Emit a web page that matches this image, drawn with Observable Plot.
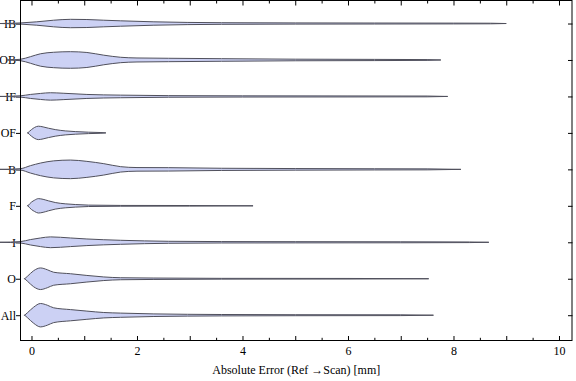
<!DOCTYPE html>
<html>
<head>
<meta charset="utf-8">
<script src="https://cdn.jsdelivr.net/npm/d3@7"></script>
<script src="https://cdn.jsdelivr.net/npm/@observablehq/plot@0.6"></script>
<style>
  html, body { margin: 0; padding: 0; background: white; }
</style>
</head>
<body>
<div id="chart"></div>
<script>
// Categories, bottom to top
const categories = ["All", "O", "I", "F", "B", "OF", "IF", "OB", "IB"];

// Violin profiles: [error value (mm), half-width (density, px-equivalent)]
const IB = [[-0.59,0],[-0.2,0.6],[0.1,1.7],[0.42,3.3],[0.74,4.2],[1.05,4.0],[1.37,3.3],[1.69,2.7],[2.32,1.7],[2.95,1.1],[3.6,0.8],[5,0.6],[6.5,0.5],[8,0.4],[8.7,0.3],[9.0,0]];
const OB = [[-0.45,0],[-0.21,0.7],[-0.02,3.3],[0.17,6.2],[0.42,7.7],[0.74,8.3],[1.05,7.5],[1.37,4.8],[1.69,2.7],[2.0,2.0],[2.6,1.7],[3.6,1.3],[5,0.8],[6.5,0.6],[7.5,0.4],[7.76,0]];
const IF = [[-0.59,0],[-0.2,0.7],[-0.02,2.0],[0.17,3.0],[0.36,3.7],[0.6,3.2],[1.05,2.0],[1.69,1.3],[2.6,0.8],[4,0.6],[6,0.5],[7.5,0.4],[7.89,0]];
const OF = [[-0.07,0],[0.0,3.3],[0.06,5.5],[0.13,6.7],[0.22,6.0],[0.32,4.7],[0.45,3.3],[0.64,2.0],[0.83,1.3],[1.08,0.7],[1.3,0.4],[1.41,0]];
const B  = [[-0.59,0],[-0.21,0.7],[-0.02,3.7],[0.17,6.3],[0.42,8.5],[0.74,9.3],[1.05,8.0],[1.37,5.7],[1.69,2.7],[2.0,1.8],[2.6,1.7],[3.6,1.1],[5,0.8],[6.5,0.6],[7.5,0.5],[8.14,0]];
const F  = [[-0.07,0],[0.0,3.7],[0.06,5.7],[0.13,7.2],[0.22,6.5],[0.32,5.0],[0.45,3.3],[0.64,2.0],[0.83,1.3],[1.08,0.7],[1.69,0.4],[3,0.3],[4.2,0]];
const I  = [[-0.59,0],[-0.21,0.7],[-0.02,2.7],[0.17,4.3],[0.36,5.4],[0.74,4.3],[1.05,3.3],[1.69,2.0],[2.6,1.0],[3.6,0.7],[5,0.6],[7,0.5],[8.3,0.3],[8.67,0]];
const O  = [[-0.13,0],[-0.08,2.3],[0.04,8.0],[0.17,10.8],[0.3,9.0],[0.42,6.5],[0.74,5.0],[1.05,3.3],[1.37,1.8],[1.69,1.0],[2.32,0.7],[3.6,0.4],[6,0.3],[7.53,0]];
const All = [[-0.13,0],[-0.08,2.3],[0.04,8.0],[0.17,11.7],[0.3,10.0],[0.42,7.4],[0.74,5.6],[1.05,4.1],[1.37,2.7],[1.69,2.1],[2.32,1.3],[3.6,0.7],[5,0.5],[7,0.4],[7.62,0]];

const profiles = {All, O, I, F, B, OF, IF, OB, IB};

// Axis ticks
const xLabelTicks = [0, 2, 4, 6, 8, 10];
const xMajorTicks = [0, 1, 2, 3, 4, 5, 6, 7, 8, 9, 10];
const xMinorTicks = [0.5, 1.5, 2.5, 3.5, 4.5, 5.5, 6.5, 7.5, 8.5, 9.5];
const xLabel = "Absolute Error (Ref \u2192Scan) [mm]";

// density-to-category-unit factor
const densityScale = 1 / 36.46;

const table = [];
categories.forEach((c, i) => {
  for (const [v, w] of profiles[c]) {
    table.push({cat: c, pos: i, v, lo: i - w * densityScale, hi: i + w * densityScale});
  }
});
const catPos = categories.map((c, i) => i);

const font = "'Liberation Serif', 'DejaVu Serif', serif";

const chart = Plot.plot({
  width: 576,
  height: 381,
  marginLeft: 20,
  marginRight: 4.5,
  marginTop: 0,
  marginBottom: 41,
  style: {fontFamily: font, fontSize: "12px", background: "white", color: "black"},
  x: {domain: [-0.218, 10.237]},
  y: {domain: [-0.68, 8.645]},
  marks: [
    // category labels and outward ticks on the left
    Plot.axisY(catPos, {anchor: "left", tickSize: 4, tickPadding: 0.5, tickFormat: i => categories[i], label: null, fontSize: 12}),
    // inward ticks on the right
    Plot.axisY(catPos, {anchor: "right", tickSize: -4.5, tickFormat: () => "", label: null}),
    // bottom labels
    Plot.axisX(xLabelTicks, {anchor: "bottom", tickSize: 0, tickPadding: 6, label: null, fontSize: 12}),
    // inward bottom ticks
    Plot.axisX(xMajorTicks, {anchor: "bottom", tickSize: -4, tickFormat: () => "", label: null}),
    Plot.axisX(xMinorTicks, {anchor: "bottom", tickSize: -2.2, tickFormat: () => "", label: null}),
    // inward top ticks
    Plot.axisX(xMajorTicks, {anchor: "top", tickSize: -4.5, tickFormat: () => "", label: null}),
    Plot.axisX(xMinorTicks, {anchor: "top", tickSize: -2.5, tickFormat: () => "", label: null}),
    // axis title
    Plot.text([xLabel], {frameAnchor: "bottom", dy: 29.5, lineAnchor: "middle", text: d => d, fontSize: 12, fill: "black"}),
    // violins
    Plot.areaY(table, {x: "v", y1: "lo", y2: "hi", z: "cat", fill: "#ccd1f4", stroke: "#50505c", strokeWidth: 1, curve: "monotone-x"}),
    Plot.frame({stroke: "black", strokeWidth: 1})
  ]
});

document.getElementById("chart").appendChild(chart);
</script>
</body>
</html>
